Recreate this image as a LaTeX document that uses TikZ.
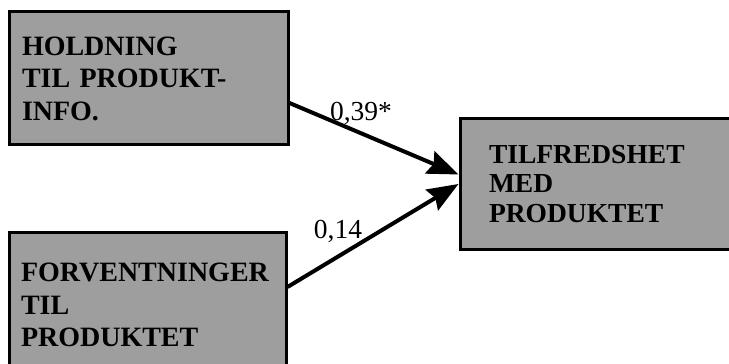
\documentclass[tikz,border=0pt]{standalone}
\usepackage{fontspec}
\setmainfont{Liberation Serif}
\usetikzlibrary{arrows.meta}
\begin{document}
\begin{tikzpicture}[x=1pt,y=1pt,
  boxnode/.style={draw=black, line width=3pt, fill=black!38, align=left,
    font=\bfseries\fontsize{28}{32.5}\selectfont, inner ysep=0pt},
  coefflbl/.style={font=\fontsize{27.5}{30}\selectfont, inner sep=0pt},
  pathedge/.style={line width=4pt, -{Stealth[length=31pt,width=24pt,inset=4pt]}}]
\useasboundingbox (0,0) rectangle (729,364);
\clip (0,0) rectangle (729,364);
\fill[white] (0,0) rectangle (729,364);
\node[boxnode, minimum width=279pt, minimum height=133pt, text width=253pt, inner xsep=13pt]
  (a) at (148.5,285.5) {HOLDNING\\TIL PRODUKT-\\INFO.};
\node[boxnode, minimum width=277pt, minimum height=144pt, text width=253pt, inner xsep=12pt]
  (b) at (147.5,59) {FORVENTNINGER\\TIL\\PRODUKTET};
\node[boxnode, font=\bfseries\fontsize{27.5}{29.5}\selectfont, minimum width=280pt, minimum height=131pt, text width=222pt, inner xsep=29pt]
  (c) at (600,180) {TILFREDSHET\\MED\\PRODUKTET};
\draw[pathedge] ([yshift=-24.5pt]a.east) -- ([yshift=9.5pt]c.west);
\draw[pathedge] ([yshift=18pt]b.east) -- (c.west);
\node[coefflbl] (l1) at (361,251) {0,39*};
\node[coefflbl] (l2) at (338,133) {0,14};
\end{tikzpicture}
\end{document}
